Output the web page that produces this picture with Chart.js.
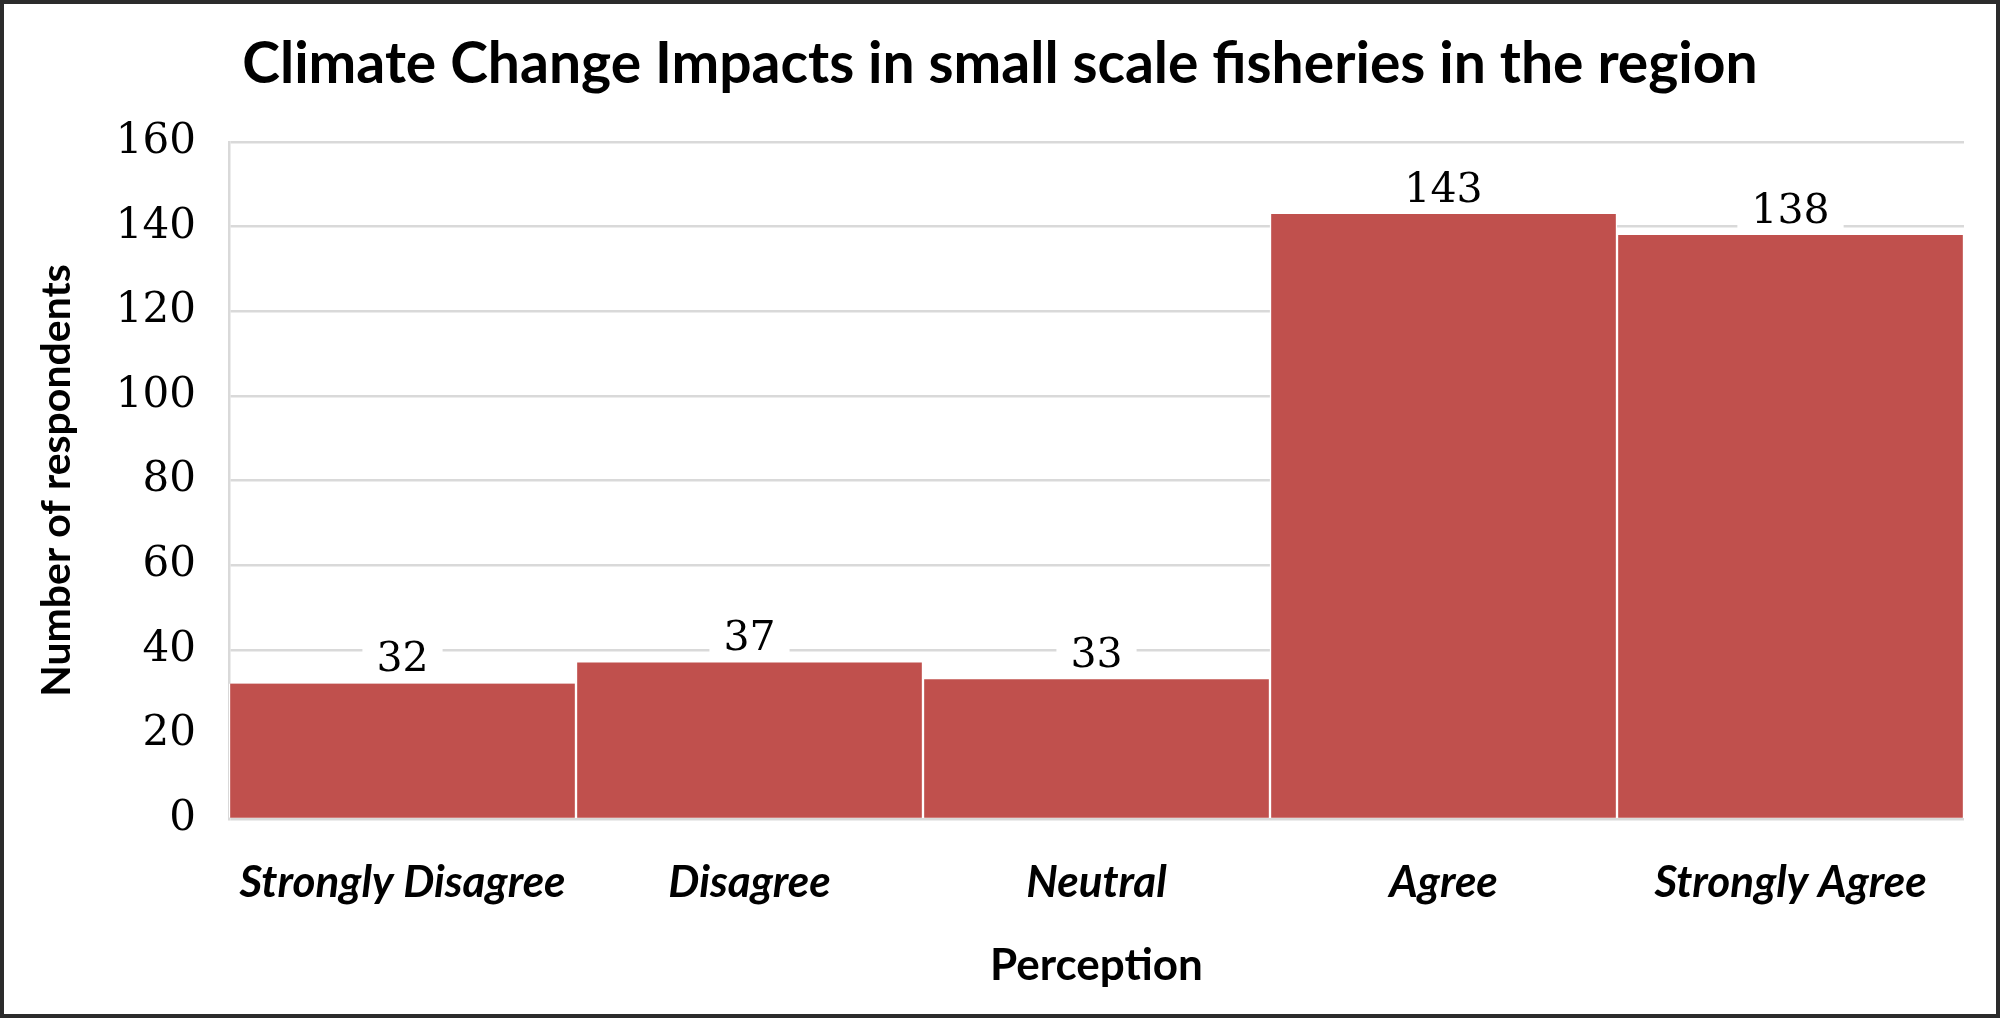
<!DOCTYPE html>
<html><head><meta charset="utf-8">
<script src="https://cdn.jsdelivr.net/npm/chart.js@4"></script>
<style>html,body{margin:0;padding:0;background:#fff;overflow:hidden}canvas{display:block}</style>
</head><body>
<canvas id="c" width="2000" height="1018"></canvas>
<script>
const categories = ['Strongly Disagree', 'Disagree', 'Neutral', 'Agree', 'Strongly Agree'];
const respondents = [32, 37, 33, 143, 138];
const yMin = 0, yMax = 160, yStep = 20;
const chartTitle = 'Climate Change Impacts in small scale fisheries in the region';
const xTitle = 'Perception';
const yTitle = 'Number of respondents';

const W = 2000, H = 1018;
const plotLeft = 229, plotRight = 1964, plotTop = 142, plotBottom = 819;

const framePlugin = {
  id: 'frame',
  afterDraw(chart) {
    const ctx = chart.ctx;
    ctx.save();
    ctx.strokeStyle = '#2b2b2b';
    ctx.lineWidth = 4;
    ctx.strokeRect(2, 2, W - 4, H - 4);
    ctx.restore();
  }
};

const bgPlugin = {
  id: 'bg',
  beforeDraw(chart) {
    const ctx = chart.ctx;
    ctx.save();
    ctx.fillStyle = '#fff';
    ctx.fillRect(0, 0, W, H);
    ctx.restore();
  }
};

const labelPlugin = {
  id: 'valueLabels',
  afterDatasetsDraw(chart) {
    const ctx = chart.ctx;
    const meta = chart.getDatasetMeta(0);
    ctx.save();
    ctx.font = '41px "DejaVu Serif"';
    ctx.textAlign = 'center';
    ctx.textBaseline = 'middle';
    meta.data.forEach((bar, i) => {
      const txt = String(chart.data.datasets[0].data[i]);
      const tw = ctx.measureText(txt).width;
      const cy = bar.y - 23;
      ctx.fillStyle = '#fff';
      ctx.fillRect(bar.x - tw / 2 - 14, cy - 20, tw + 28, 40);
      ctx.fillStyle = '#000';
      ctx.fillText(txt, bar.x, cy);
    });
    ctx.restore();
  }
};

new Chart(document.getElementById('c'), {
  type: 'bar',
  data: {
    labels: categories,
    datasets: [{
      data: respondents,
      backgroundColor: '#C0504D',
      borderColor: '#ffffff',
      borderWidth: {top: 0, bottom: 0, left: 1.5, right: 1.5},
      borderSkipped: false,
      barPercentage: 1,
      categoryPercentage: 1
    }]
  },
  options: {
    responsive: false,
    devicePixelRatio: 1,
    animation: false,
    layout: {padding: 0},
    plugins: {
      legend: {display: false},
      tooltip: {enabled: false},
      title: {
        display: true,
        text: chartTitle,
        color: '#000',
        font: {family: 'Lato', weight: 'bold', size: 57, lineHeight: 1.2},
        padding: {top: 30, bottom: plotTop - 30 - 68.4}
      }
    },
    scales: {
      x: {
        grid: {display: false, drawTicks: false},
        border: {display: false},
        ticks: {
          color: '#000',
          padding: 37,
          font: {family: 'Lato', weight: 'bold', style: 'italic', size: 44, lineHeight: 1.2},
          maxRotation: 0, autoSkip: false
        },
        title: {
          display: true, text: xTitle, color: '#000',
          font: {family: 'Lato', weight: 'bold', size: 44, lineHeight: 1.2},
          padding: {top: 0, bottom: 26}
        },
        afterFit(scale) { scale.height = H - plotBottom; }
      },
      y: {
        min: yMin, max: yMax,
        grid: {color: '#d9d9d9', lineWidth: 2.5, drawTicks: false},
        border: {display: true, color: '#d9d9d9', width: 2.5},
        ticks: {
          stepSize: yStep, color: '#000', padding: 33,
          font: {family: 'DejaVu Serif', size: 42, lineHeight: 1.2}
        },
        title: {
          display: true, text: yTitle, color: '#000',
          font: {family: 'Lato', weight: 'bold', size: 41, lineHeight: 1.2},
          padding: {top: 32, bottom: 0}
        },
        afterFit(scale) { scale.width = plotLeft; }
      },
      yRight: {
        position: 'right',
        min: yMin, max: yMax,
        grid: {display: false, drawTicks: false},
        border: {display: false},
        ticks: {display: false},
        afterFit(scale) { scale.width = W - plotRight; }
      }
    }
  },
  plugins: [bgPlugin, labelPlugin, framePlugin]
});
</script>
</body></html>
